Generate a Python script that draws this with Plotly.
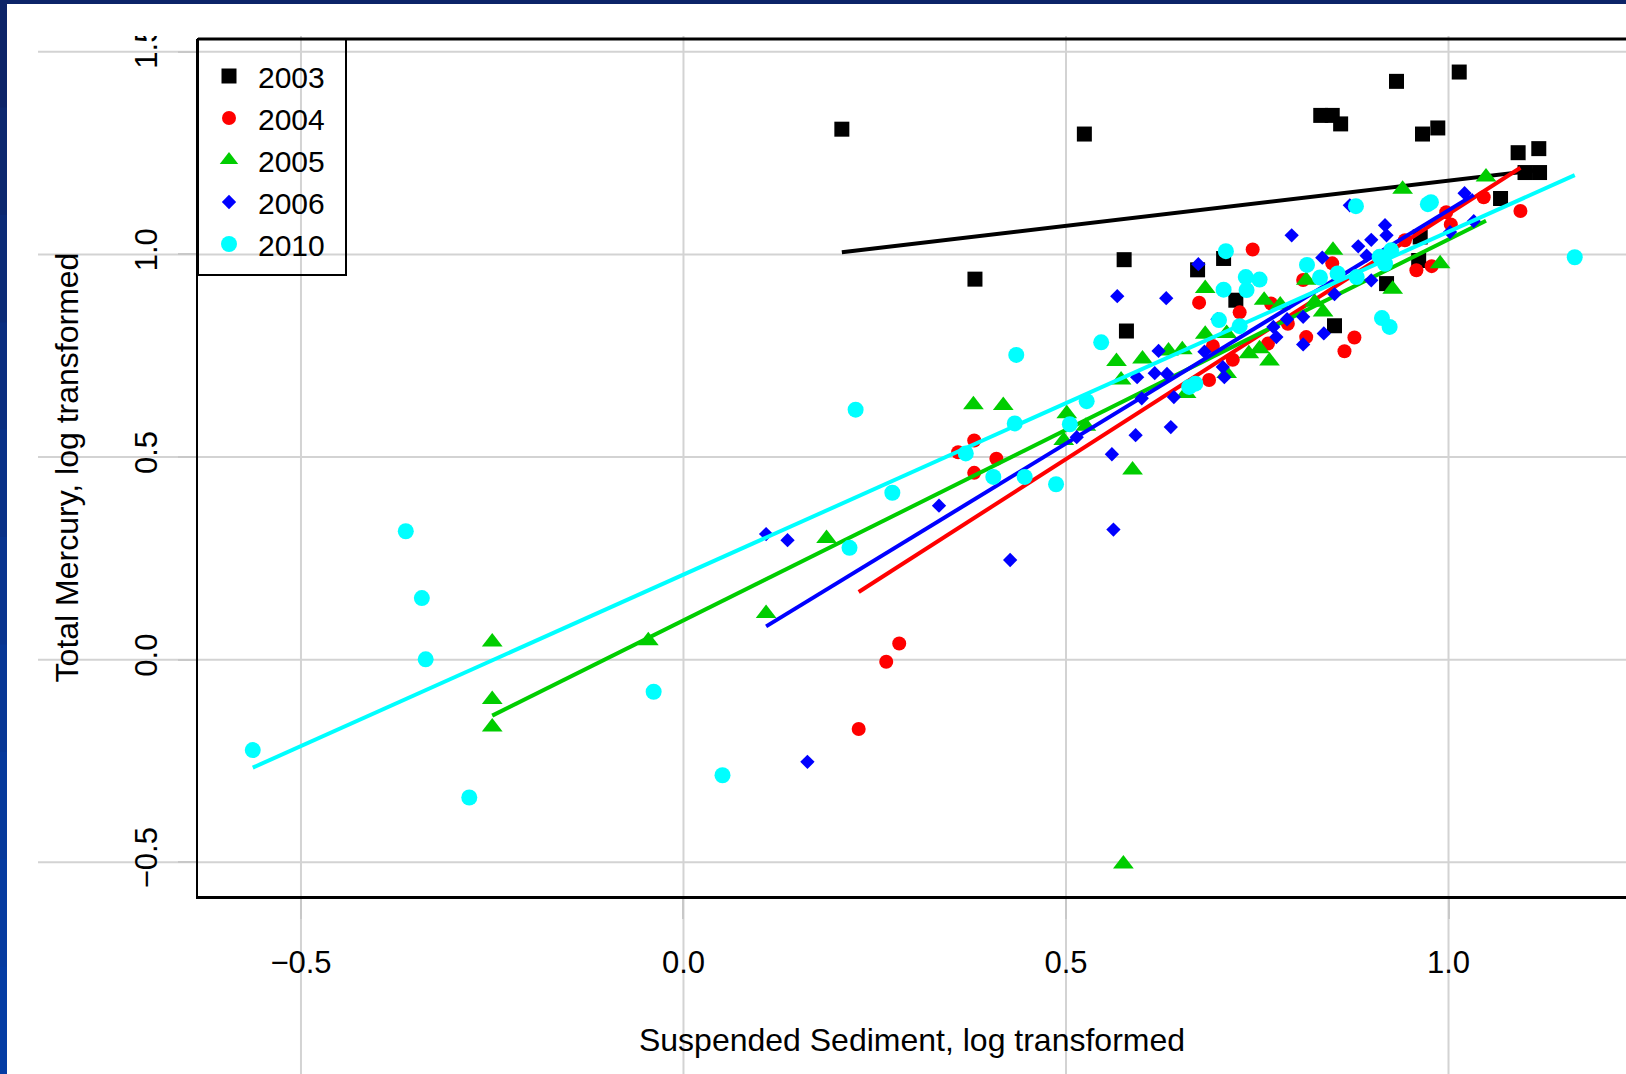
import numpy as np
import plotly.graph_objects as go

# ---------------- data ----------------
years = ["2003", "2004", "2005", "2006", "2010"]

x2003 = [0.207, 0.524, 0.381, 0.576, 0.579, 0.672, 0.706, 0.722, 0.833, 0.848, 0.859, 0.932,
         1.014, 0.966, 0.986, 1.091, 1.118, 1.100, 1.119, 1.068, 0.961, 0.963, 0.919, 0.851]
y2003 = [1.309, 1.297, 0.939, 0.987, 0.811, 0.962, 0.990, 0.887, 1.343, 1.343, 1.322, 1.427,
         1.450, 1.297, 1.312, 1.251, 1.261, 1.202, 1.202, 1.138, 0.985, 1.043, 0.928, 0.824]

x2004 = [0.229, 0.265, 0.282, 0.380, 0.359, 0.409, 0.380, 0.744, 0.674, 0.727, 0.692, 0.718,
         0.687, 0.764, 0.768, 0.790, 0.814, 0.810, 0.848, 1.046, 1.094, 0.997, 1.003, 0.958,
         0.978, 0.877, 0.864, 0.943]
y2004 = [-0.171, -0.005, 0.040, 0.541, 0.512, 0.496, 0.461, 1.012, 0.881, 0.857, 0.774, 0.740,
         0.690, 0.780, 0.879, 0.829, 0.796, 0.937, 0.978, 1.141, 1.107, 1.104, 1.074, 0.961,
         0.971, 0.795, 0.761, 1.035]

x2005 = [-0.250, -0.250, -0.250, -0.046, 0.187, 0.108, 0.379, 0.418, 0.501, 0.497, 0.526, 0.587,
         0.575, 0.566, 0.600, 0.634, 0.652, 0.682, 0.682, 0.572, 0.657, 0.710, 0.739, 0.753,
         0.766, 0.759, 0.780, 0.814, 0.836, 0.825, 0.849, 0.710, 0.940, 1.049, 0.989, 0.927]
y2005 = [0.044, -0.098, -0.166, 0.047, 0.299, 0.114, 0.629, 0.627, 0.607, 0.541, 0.576, 0.468,
         -0.504, 0.736, 0.742, 0.762, 0.765, 0.916, 0.803, 0.690, 0.657, 0.706, 0.755, 0.767,
         0.737, 0.887, 0.875, 0.936, 0.858, 0.882, 1.010, 0.805, 1.161, 1.191, 0.977, 0.914]

x2006 = [0.162, 0.108, 0.136, 0.334, 0.427, 0.514, 0.562, 0.560, 0.591, 0.637, 0.567, 0.631,
         0.673, 0.795, 0.835, 0.621, 0.593, 0.616, 0.632, 0.599, 0.641, 0.681, 0.705, 0.707,
         0.771, 0.775, 0.789, 0.810, 0.837, 0.810, 0.851, 0.698, 1.021, 1.033, 0.917, 0.899,
         0.919, 0.882, 0.893, 0.871, 1.002, 0.899]
y2006 = [-0.252, 0.310, 0.295, 0.380, 0.246, 0.549, 0.321, 0.507, 0.554, 0.574, 0.897, 0.892,
         0.976, 1.047, 0.992, 0.762, 0.697, 0.707, 0.705, 0.645, 0.648, 0.760, 0.722, 0.697,
         0.821, 0.796, 0.840, 0.846, 0.805, 0.778, 0.902, 0.840, 1.151, 1.082, 1.072, 1.036,
         1.047, 1.020, 0.997, 1.121, 1.055, 0.936]

x2010 = [-0.563, -0.363, -0.342, -0.337, -0.280, -0.039, 0.051, 0.217, 0.225, 0.273, 0.369, 0.405,
         0.446, 0.435, 0.433, 0.487, 0.505, 0.527, 0.546, 0.709, 0.706, 0.735, 0.753, 0.736,
         0.700, 0.727, 0.669, 0.661, 0.815, 0.832, 0.855, 0.879, 0.977, 0.973, 1.165, 0.913,
         0.923, 0.917, 0.925, 0.880, 0.910]
y2010 = [-0.223, 0.317, 0.152, 0.001, -0.340, -0.079, -0.285, 0.276, 0.617, 0.412, 0.509, 0.451,
         0.451, 0.752, 0.583, 0.433, 0.581, 0.638, 0.783, 1.008, 0.913, 0.944, 0.938, 0.912,
         0.838, 0.823, 0.681, 0.673, 0.974, 0.943, 0.953, 1.119, 1.129, 1.124, 0.993, 0.843,
         0.821, 0.977, 1.010, 0.944, 0.994]

# fitted regression lines (intercept, slope) per year
intercepts = [0.959, -0.110, 0.097, -0.042, 0.210]
slopes = [0.223, 1.210, 0.940, 1.151, 0.846]

xs = [x2003, x2004, x2005, x2006, x2010]
ys = [y2003, y2004, y2005, y2006, y2010]

colors = ["#000000", "#FF0000", "#00CD00", "#0000FF", "#00FFFF"]
symbols = ["square", "circle", "triangle-up", "diamond", "circle"]
sizes = [15, 14, 18, 11, 16]

x_ticks = [-0.5, 0.0, 0.5, 1.0]
y_ticks = [-0.5, 0.0, 0.5, 1.0, 1.5]
x_range = [-0.6346, 1.232]
y_range = [-0.583, 1.5315]

# ---------------- figure geometry ----------------
W, H = 1626, 1074
ML, MR, MT, MB = 198, 0, 39, 178
PW, PH = W - ML - MR, H - MT - MB


def px_x(p):
    return (p - ML) / PW


def px_y(p):
    return (H - MB - p) / PH


FONT = "Liberation Sans, Arial, sans-serif"

fig = go.Figure()

for i, yr in enumerate(years):
    fig.add_trace(go.Scatter(
        x=xs[i], y=ys[i], mode="markers", name=yr,
        marker=dict(symbol=symbols[i], size=sizes[i], color=colors[i], line=dict(width=0)),
        showlegend=True,
    ))
    xl = np.array([min(xs[i]), max(xs[i])])
    yl = intercepts[i] + slopes[i] * xl
    fig.add_trace(go.Scatter(
        x=xl, y=yl, mode="lines", line=dict(color=colors[i], width=4),
        showlegend=False, hoverinfo="skip",
    ))

shapes = []
# grid lines extending over the whole picture (as in the reference)
for v in x_ticks:
    xp = (v - x_range[0]) / (x_range[1] - x_range[0])
    shapes.append(dict(type="line", xref="paper", yref="paper", x0=xp, x1=xp,
                       y0=px_y(H), y1=px_y(36), line=dict(color="#d3d3d3", width=2), layer="below"))
for v in y_ticks:
    yp = (v - y_range[0]) / (y_range[1] - y_range[0])
    shapes.append(dict(type="line", xref="paper", yref="paper", x0=px_x(38), x1=1.0,
                       y0=yp, y1=yp, line=dict(color="#d3d3d3", width=2), layer="below"))

# top frame line
shapes.append(dict(type="line", xref="paper", yref="paper", x0=0, x1=1.01, y0=1, y1=1,
                   line=dict(color="black", width=3), layer="above"))
# legend box
shapes.append(dict(type="rect", xref="paper", yref="paper", x0=0, x1=px_x(346),
                   y0=px_y(275), y1=1, line=dict(color="black", width=2),
                   fillcolor="rgba(0,0,0,0)", layer="above"))
# mask that clips the top tick label like the reference
shapes.append(dict(type="rect", xref="paper", yref="paper", x0=px_x(90), x1=px_x(190),
                   y0=px_y(36), y1=px_y(4), line=dict(width=0), fillcolor="white", layer="above"))
# slide border (dark blue) on the top and the left
shapes.append(dict(type="rect", xref="paper", yref="paper", x0=px_x(-5), x1=px_x(W + 5),
                   y0=px_y(4), y1=px_y(-5), line=dict(width=0), fillcolor="#0c2468", layer="above"))
band_cols = ["#0c2468", "#0c286f", "#0b2b77", "#0a2e7f", "#093187", "#08348e", "#073795",
             "#06399b", "#053ba0", "#043ca4"]
nb = len(band_cols)
for k, c in enumerate(band_cols):
    shapes.append(dict(type="rect", xref="paper", yref="paper", x0=px_x(-5), x1=px_x(7),
                       y0=px_y(H * (k + 1) / nb + 1), y1=px_y(H * k / nb),
                       line=dict(width=0), fillcolor=c, layer="above"))

fig.update_layout(
    width=W, height=H,
    margin=dict(l=ML, r=MR, t=MT, b=MB, pad=0),
    paper_bgcolor="white", plot_bgcolor="rgba(0,0,0,0)",
    font=dict(family=FONT, size=30, color="black"),
    shapes=shapes,
    showlegend=True,
    legend=dict(x=px_x(200), y=px_y(50), xanchor="left", yanchor="top",
                bgcolor="rgba(0,0,0,0)", borderwidth=0, itemwidth=48,
                font=dict(family=FONT, size=30, color="black"),
                itemsizing="trace"),
    xaxis=dict(range=x_range, tickvals=x_ticks, tickformat=".1f", showgrid=False, zeroline=False,
               showline=True, linecolor="black", linewidth=3,
               ticks="outside", ticklen=20, tickwidth=2, tickcolor="#c8c8c8",
               ticklabelstandoff=17,
               tickfont=dict(family=FONT, size=31, color="black"),
               title=dict(text="Suspended Sediment, log transformed", standoff=50,
                          font=dict(family=FONT, size=32, color="black"))),
    yaxis=dict(range=y_range, tickvals=y_ticks, tickformat=".1f", showgrid=False, zeroline=False,
               showline=True, linecolor="black", linewidth=2,
               ticks="outside", ticklen=18, tickwidth=2, tickcolor="#c8c8c8",
               tickangle=-90, ticklabelstandoff=9,
               tickfont=dict(family=FONT, size=31, color="black"),
               title=dict(text="Total Mercury, log transformed", standoff=40,
                          font=dict(family=FONT, size=32, color="black"))),
)

fig.write_html("out.html", config={"displayModeBar": False},
               post_script="document.body.style.margin='0px';document.body.style.overflow='hidden';")
